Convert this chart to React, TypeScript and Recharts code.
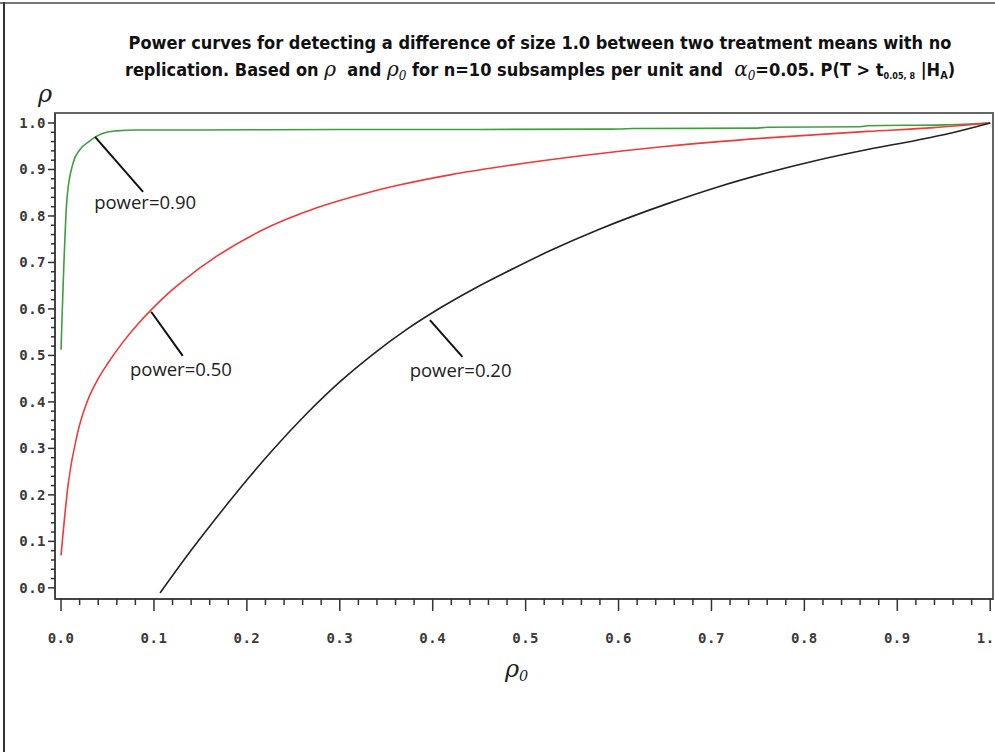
import React from 'react';
import { LineChart, Line, XAxis, YAxis, ReferenceLine, ReferenceDot, ReferenceArea, Label } from 'recharts';

// rho0 values and rho
const power90X = [0, 0.0065, 0.013, 0.02, 0.03, 0.037, 0.047, 0.06, 0.08, 0.15, 0.3, 0.45, 0.6, 0.616, 0.75, 0.76, 0.86, 0.868, 0.95, 1.0];
const power90Y = [0.512, 0.84, 0.914, 0.942, 0.96, 0.97, 0.979, 0.983, 0.985, 0.985, 0.986, 0.986, 0.987, 0.988, 0.989, 0.991, 0.992, 0.994, 0.996, 1.0];

const power50X = [0, 0.0075, 0.018, 0.028, 0.04, 0.05, 0.066, 0.083, 0.098, 0.115, 0.131, 0.168, 0.214, 0.276, 0.33, 0.365, 0.42, 0.473, 0.562, 0.652, 0.76, 0.868, 0.939, 1.0];
const power50Y = [0.07, 0.22, 0.335, 0.4, 0.45, 0.482, 0.527, 0.568, 0.6, 0.633, 0.66, 0.714, 0.767, 0.818, 0.85, 0.867, 0.889, 0.906, 0.93, 0.95, 0.968, 0.982, 0.99, 1.0];

const power20X = [0.1066, 0.139, 0.174, 0.2, 0.228, 0.265, 0.3, 0.336, 0.372, 0.408, 0.444, 0.48, 0.526, 0.58, 0.652, 0.706, 0.76, 0.814, 0.868, 0.921, 0.957, 1.0];
const power20Y = [-0.011, 0.078, 0.168, 0.232, 0.297, 0.376, 0.443, 0.503, 0.556, 0.602, 0.643, 0.68, 0.725, 0.772, 0.826, 0.862, 0.893, 0.92, 0.943, 0.963, 0.978, 1.0];

// ticks every 0.02, labelled every 0.1
const axisTicks = [0, 0.02, 0.04, 0.06, 0.08, 0.1, 0.12, 0.14, 0.16, 0.18, 0.2, 0.22, 0.24, 0.26, 0.28, 0.3, 0.32, 0.34, 0.36, 0.38, 0.4, 0.42, 0.44, 0.46, 0.48, 0.5, 0.52, 0.54, 0.56, 0.58, 0.6, 0.62, 0.64, 0.66, 0.68, 0.7, 0.72, 0.74, 0.76, 0.78, 0.8, 0.82, 0.84, 0.86, 0.88, 0.9, 0.92, 0.94, 0.96, 0.98, 1.0];

const xDomain: [number, number] = [-0.0065, 1.003];
const yDomain: [number, number] = [-0.024, 1.0215];

const toPoints = (xs: number[], ys: number[]) => xs.map((x, i) => ({ x, y: ys[i] }));

const isMajor = (v: number) => Math.abs(v * 10 - Math.round(v * 10)) < 1e-6;

const tickFont = { fontFamily: '"DejaVu Sans Mono", monospace', fontSize: 14, fontWeight: 'bold', fill: '#3a3a3a', letterSpacing: 0.5 };

function XTick(props: any) {
  const { x, y, payload } = props;
  const major = isMajor(payload.value);
  return (
    <g>
      <line x1={x} x2={x} y1={y} y2={y + (major ? 12 : 6)} stroke="#333" strokeWidth={1.5} />
      {major && (
        <text x={x} y={y + 44} textAnchor="middle" {...tickFont}>
          {payload.value.toFixed(1)}
        </text>
      )}
    </g>
  );
}

function YTick(props: any) {
  const { x, y, payload } = props;
  const major = isMajor(payload.value);
  return (
    <g>
      <line x1={x} x2={x - (major ? 7 : 4)} y1={y} y2={y} stroke="#333" strokeWidth={1.5} />
      {major && (
        <text x={x - 9} y={y + 5} textAnchor="end" {...tickFont}>
          {payload.value.toFixed(1)}
        </text>
      )}
    </g>
  );
}

const annFont = { fontFamily: '"Open Sans", sans-serif', fontSize: 18.5, fill: '#222' };

const annotations = [
  { text: 'power=0.90', from: [0.0366, 0.97], to: [0.0883, 0.852], at: [0.0905, 0.83] },
  { text: 'power=0.50', from: [0.097, 0.594], to: [0.131, 0.499], at: [0.129, 0.47] },
  { text: 'power=0.20', from: [0.397, 0.576], to: [0.432, 0.497], at: [0.43, 0.467] },
];

const greek: React.CSSProperties = { fontFamily: '"DejaVu Serif", serif', fontStyle: 'italic', fontWeight: 'normal', fontSize: 20 };
const sub: React.CSSProperties = { fontSize: '0.6em', verticalAlign: '-0.3em' };

export default function App() {
  return (
    <div style={{ position: 'absolute', left: 0, top: 0, width: 995, height: 752, background: '#fff', overflow: 'hidden' }}>
      <div style={{ position: 'absolute', left: 0, top: 2, width: 995, height: 2, background: '#777' }} />
      <div style={{ position: 'absolute', left: 3, top: 2, width: 2, height: 750, background: '#333' }} />
      <div
        style={{
          position: 'absolute', left: 90, top: 29, width: 900, textAlign: 'center',
          fontFamily: '"DejaVu Sans Condensed", "DejaVu Sans", sans-serif', fontWeight: 'bold',
          fontSize: 18, lineHeight: '27px', color: '#111',
        }}
      >
        <div>Power curves for detecting a difference of size 1.0 between two treatment means with no</div>
        <div>
          replication. Based on <span style={greek}>ρ</span> &nbsp;and <span style={greek}>ρ<span style={sub}>0</span></span> for n=10 subsamples per unit and&nbsp; <span style={greek}>α<span style={sub}>0</span></span>=0.05. P(T &gt; t<span style={{ fontSize: '0.5em', verticalAlign: '-0.3em' }}>0.05, 8</span> |H<span style={sub}>A</span>)
        </div>
      </div>
      <div style={{ position: 'absolute', left: 38, top: 80, ...greek, fontSize: 24, color: '#222' }}>ρ</div>
      <div style={{ position: 'absolute', left: 505, top: 655, ...greek, fontSize: 24, color: '#222' }}>
        ρ<span style={sub}>0</span>
      </div>
      <LineChart
        width={995}
        height={752}
        margin={{ top: 113, right: 2, left: 0, bottom: 93 }}
        style={{ position: 'absolute', left: 0, top: 0 }}
      >
        <XAxis
          type="number"
          dataKey="x"
          domain={xDomain}
          allowDataOverflow
          ticks={axisTicks}
          interval={0}
          tickSize={0}
          tickMargin={0}
          tickLine={false}
          tick={<XTick />}
          height={60}
          axisLine={{ stroke: '#444', strokeWidth: 2 }}
        />
        <YAxis
          type="number"
          dataKey="y"
          domain={yDomain}
          allowDataOverflow
          ticks={axisTicks}
          interval={0}
          tickSize={0}
          tickMargin={0}
          tickLine={false}
          tick={<YTick />}
          width={55}
          axisLine={{ stroke: '#444', strokeWidth: 2 }}
        />
        <ReferenceArea x1={xDomain[0]} x2={xDomain[1]} y1={yDomain[0]} y2={yDomain[1]} fill="none" stroke="#666" strokeWidth={2} />
        <Line data={toPoints(power90X, power90Y)} dataKey="y" type="monotone" stroke="#3f9f3f" strokeWidth={1.6} dot={false} isAnimationActive={false} />
        <Line data={toPoints(power50X, power50Y)} dataKey="y" type="monotone" stroke="#ee3a3a" strokeWidth={1.6} dot={false} isAnimationActive={false} />
        <Line data={toPoints(power20X, power20Y)} dataKey="y" type="monotone" stroke="#222" strokeWidth={1.6} dot={false} isAnimationActive={false} />
        {annotations.map((a) => (
          <ReferenceLine
            key={a.text + 'l'}
            segment={[{ x: a.from[0], y: a.from[1] }, { x: a.to[0], y: a.to[1] }]}
            stroke="#111"
            strokeWidth={2}
          />
        ))}
        {annotations.map((a) => (
          <ReferenceDot key={a.text} x={a.at[0]} y={a.at[1]} r={0} fill="none" stroke="none">
            <Label value={a.text} position="center" {...annFont} />
          </ReferenceDot>
        ))}
      </LineChart>
    </div>
  );
}
